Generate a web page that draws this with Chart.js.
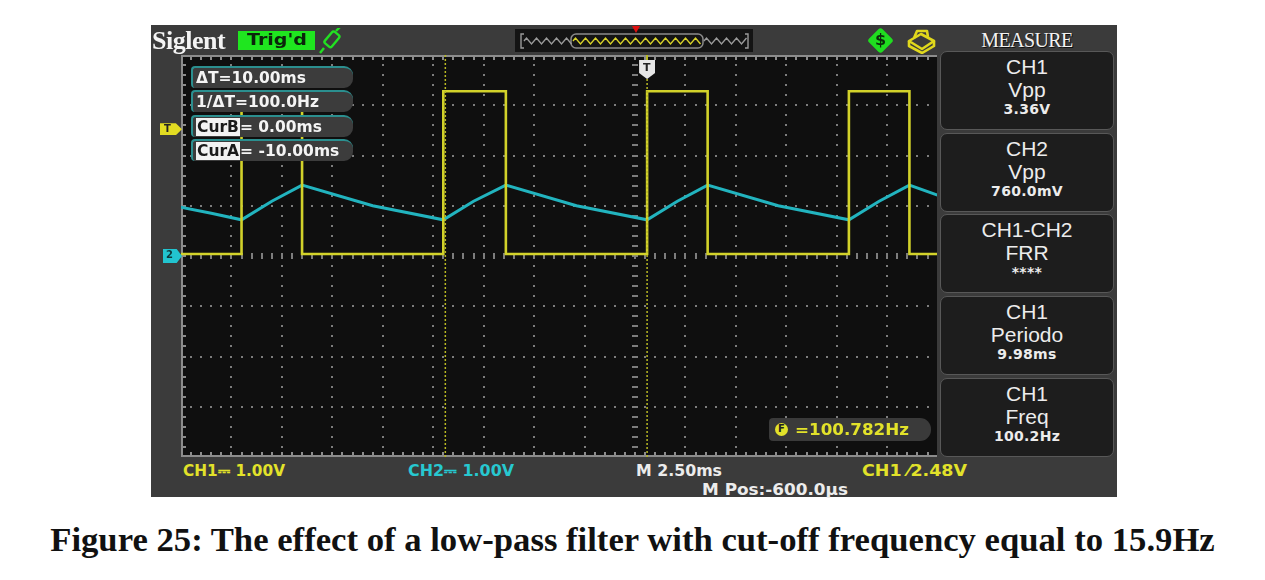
<!DOCTYPE html>
<html>
<head>
<meta charset="utf-8">
<title>Figure 25</title>
<script src="https://cdn.jsdelivr.net/npm/chart.js@4.4.1/dist/chart.umd.min.js"></script>
<style>
  body { margin: 0; width: 1265px; height: 580px; background: #fff; position: relative; overflow: hidden; }
  .abs { position: absolute; white-space: nowrap; }
  .ui { font-family: "DejaVu Sans", sans-serif; font-weight: bold; transform-origin: 0 50%; line-height: 1; }
  #frame { left: 151px; top: 25px; width: 966px; height: 472px; background: #3b3b3b; }
  #plotWrap { left: 181px; top: 55px; width: 908px; height: 402px; background: #0f0f0f; }
  #menu { left: 937px; top: 25px; width: 180px; height: 433px; background: #3b3b3b; }
  #menuHead { left: 938px; top: 27px; width: 178px; height: 24px; color: #f2f2f2; text-align: center;
    font: 20px "Liberation Serif", serif; letter-spacing: -0.6px; text-shadow: 1px 1px 0 #111; line-height: 26px; }
  .mbox { position: absolute; left: 940px; width: 172px; height: 77px; background: #1d1d1d;
    border: 1px solid #585858; border-radius: 7px; color: #ececec; }
  .mbox div { position: absolute; left: 0; width: 100%; text-align: center; line-height: 1; }
  .l1, .l2 { font: 21px "Liberation Sans", Arial, sans-serif; }
  .l3 { font: bold 14px "DejaVu Sans", sans-serif; letter-spacing: 0.3px; }
  .rd { position: absolute; left: 191px; width: 160px; height: 20px; background: #3c3c3c;
    border-top: 2px solid #2b8f8f; border-left: 2px solid #2b8f8f; border-radius: 4px 9px 9px 4px; }
  .rdt { color: #f4f4f4; font-size: 15.5px; top: 3px; left: 3px; }
  .hl { background: #f2f2f2; color: #1a1a1a; padding: 0 1px; }
  #caption { left: 0; top: 522px; width: 1265px; text-align: center; color: #111;
    font-family: "Liberation Serif", serif; font-weight: bold; font-size: 29px; line-height: 36px; }
</style>
</head>
<body>
<div class="abs" id="frame"></div>
<div class="abs" id="plotWrap"><canvas id="scopeChart" width="908" height="402"></canvas></div>

<!-- top bar -->
<div class="abs" style="left:152px;top:26px;color:#f4f4f4;font:bold 26px 'Liberation Serif',serif;letter-spacing:-0.5px;">Siglent</div>
<div class="abs" style="left:238px;top:31px;width:77px;height:19px;background:#1fe61f;"></div>
<div class="abs ui fit" data-w="60" style="left:247px;top:33px;font-size:15px;color:#0b250b;">Trig'd</div>
<svg class="abs" style="left:318px;top:28px" width="28" height="26" viewBox="0 0 28 26">
  <g fill="none" stroke="#22e022" stroke-width="2.4">
    <rect x="9" y="4" width="9" height="15" rx="2" transform="rotate(40 14 12)"/>
    <path d="M6 20 L2 25"/><path d="M18 3 L22 -1"/>
  </g>
</svg>
<div class="abs" style="left:515px;top:29px;width:238px;height:23px;background:#141414;"></div>
<svg class="abs" id="overview" style="left:515px;top:29px" width="238" height="23"></svg>
<div class="abs" style="left:632px;top:26px;width:0;height:0;border-left:4px solid transparent;border-right:4px solid transparent;border-top:7px solid #e01010;"></div>
<div class="abs" style="left:871px;top:31px;width:19px;height:19px;background:#20dd20;transform:rotate(45deg);border-radius:3px;"></div>
<div class="abs ui" style="left:875px;top:32px;font-size:16px;color:#0a2a0a;">$</div>
<svg class="abs" style="left:905px;top:28px" width="32" height="26" viewBox="0 0 32 26">
  <g fill="none" stroke="#e0d81c" stroke-width="2.6" stroke-linejoin="round">
    <path d="M4 13 L16 6 L29 13 L17 21 Z"/>
    <path d="M9 10 L12 3 L22 3 L23 9"/>
    <path d="M4 13 L4 18 L17 25 L29 18 L29 13"/>
  </g>
</svg>

<!-- measure menu -->
<div class="abs" id="menu"></div>
<div class="abs" id="menuHead">MEASURE</div>
<div id="menuBoxes"></div>

<!-- cursor readouts -->
<div id="readouts"></div>

<!-- bottom bar -->
<div class="abs ui fit" data-w="102" style="left:183px;top:463px;font-size:16px;color:#e2e22a;">CH1⎓ 1.00V</div>
<div class="abs ui fit" data-w="106" style="left:408px;top:463px;font-size:16px;color:#27c8d0;">CH2⎓ 1.00V</div>
<div class="abs ui fit" data-w="86" style="left:636px;top:463px;font-size:16px;color:#ececec;">M 2.50ms</div>
<div class="abs ui fit" data-w="146" style="left:702px;top:482px;font-size:16px;color:#ececec;">M Pos:-600.0µs</div>
<div class="abs ui fit" data-w="105" style="left:862px;top:463px;font-size:16px;color:#e2e22a;">CH1 ⁄2.48V</div>

<!-- frequency counter -->
<div class="abs" style="left:769px;top:418px;width:162px;height:23px;background:#3a3a3a;border-radius:4px 11px 11px 4px;"></div>
<div class="abs" style="left:775px;top:423px;width:13px;height:13px;border-radius:50%;background:#e2e22a;"></div>
<div class="abs ui" style="left:778px;top:424px;font-size:10px;color:#222;">F</div>
<div class="abs ui fit" data-w="114" style="left:795px;top:422px;font-size:16px;color:#e2e22a;">=100.782Hz</div>

<div class="abs" id="caption">Figure 25: The effect of a low-pass filter with cut-off frequency equal to 15.9Hz</div>

<script>
// scope settings
const TIME_PER_DIV = 2.5;     // ms
const H_POS = -0.6;           // ms, time at screen centre
const VOLT_PER_DIV = 1.0;
const CH1_GROUND = 0.04;      // div
const CH2_GROUND = 0.0;       // div
const TRIG_LEVEL = 2.48;      // V

// CH1: square wave, edges in ms
const ch1Rise = [-20.1, -10.1, 0.0, 10.0];
const ch1Fall = [-17.1, -7.0, 3.0, 13.0];
const ch1Low = 0.0;
const ch1High = 3.24;

// CH2: filtered output
const ch2Time = [-23.2, -21.6, -20.1, -18.6, -17.1, -13.6, -10.1, -8.6, -7.0, -3.5, 0.0, 1.5, 3.0, 6.5, 10.0, 11.5, 13.0, 14.6];
const ch2Volt = [0.98, 0.85, 0.72, 1.09, 1.41, 1.00, 0.72, 1.09, 1.41, 1.00, 0.72, 1.09, 1.41, 1.00, 0.72, 1.09, 1.41, 1.18];

// cursors (ms)
const cursorA = -10.0;
const cursorB = 0.0;

const readouts = ["ΔT=10.00ms", "1/ΔT=100.0Hz", "CurB= 0.00ms", "CurA= -10.00ms"];
const measureItems = [
  ["CH1", "Vpp", "3.36V"],
  ["CH2", "Vpp", "760.0mV"],
  ["CH1-CH2", "FRR", "****"],
  ["CH1", "Periodo", "9.98ms"],
  ["CH1", "Freq", "100.2Hz"]
];

const toDivX = t => (t - H_POS) / TIME_PER_DIV;
const toDivY = (v, g) => v / VOLT_PER_DIV + g;

// build CH1 path from the edges
const ch1Pts = [{ x: toDivX(-23.2), y: toDivY(ch1Low, CH1_GROUND) }];
ch1Rise.forEach((r, i) => {
  const f = ch1Fall[i];
  ch1Pts.push({ x: toDivX(r), y: toDivY(ch1Low, CH1_GROUND) });
  ch1Pts.push({ x: toDivX(r), y: toDivY(ch1High, CH1_GROUND) });
  ch1Pts.push({ x: toDivX(f), y: toDivY(ch1High, CH1_GROUND) });
  ch1Pts.push({ x: toDivX(f), y: toDivY(ch1Low, CH1_GROUND) });
});
ch1Pts.push({ x: toDivX(22), y: toDivY(ch1Low, CH1_GROUND) });

const ch2Pts = ch2Time.map((t, i) => ({ x: toDivX(t), y: toDivY(ch2Volt[i], CH2_GROUND) }));

const cursorLine = t => [{ x: toDivX(t), y: -4 }, { x: toDivX(t), y: 4 }];

// dotted oscilloscope graticule
const graticule = {
  id: "graticule",
  beforeDatasetsDraw(chart) {
    const { ctx, chartArea: a, scales: { x, y } } = chart;
    ctx.save();
    ctx.fillStyle = "#7d7d7d";
    for (let i = -8; i <= 8; i++) {
      const px = Math.round(x.getPixelForValue(i));
      for (let j = -20; j <= 20; j++) {
        const py = Math.round(y.getPixelForValue(j / 5));
        if (i === 0) ctx.fillRect(px - 3, py - 1, 6, 2);
        else ctx.fillRect(px - 1, py - 1, 2, 2);
      }
    }
    for (let j = -3; j <= 3; j++) {
      const py = Math.round(y.getPixelForValue(j));
      for (let i = -45; i <= 45; i++) {
        const px = Math.round(x.getPixelForValue(i / 5));
        if (j === 0) ctx.fillRect(px - 1, py - 3, 2, 6);
        else ctx.fillRect(px - 1, py - 1, 2, 2);
      }
    }
    // border with ruler ticks
    ctx.strokeStyle = "#8c8c8c";
    ctx.lineWidth = 2;
    ctx.strokeRect(a.left + 1, a.top + 1, a.width - 2, a.height - 2);
    ctx.fillStyle = "#8c8c8c";
    for (let i = -45; i <= 45; i++) {
      const px = Math.round(x.getPixelForValue(i / 5));
      ctx.fillRect(px - 1, a.top, 2, 5);
      ctx.fillRect(px - 1, a.bottom - 5, 2, 5);
    }
    for (let j = -20; j <= 20; j++) {
      const py = Math.round(y.getPixelForValue(j / 5));
      ctx.fillRect(a.left, py - 1, 5, 2);
    }
    ctx.restore();
  }
};

const chart = new Chart(document.getElementById("scopeChart").getContext("2d"), {
  type: "line",
  data: {
    datasets: [
      { label: "CurA", data: cursorLine(cursorA), borderColor: "#b9b922", borderWidth: 1.5, borderDash: [2, 2] },
      { label: "CurB", data: cursorLine(cursorB), borderColor: "#b9b922", borderWidth: 1.5, borderDash: [2, 2] },
      { label: "CH1", data: ch1Pts, borderColor: "#d2d22a", borderWidth: 2.6 },
      { label: "CH2", data: ch2Pts, borderColor: "#22b4bf", borderWidth: 3 }
    ]
  },
  options: {
    responsive: false,
    animation: false,
    devicePixelRatio: 1,
    layout: { padding: 0 },
    elements: { point: { radius: 0 }, line: { tension: 0 } },
    plugins: { legend: { display: false }, tooltip: { enabled: false } },
    scales: {
      x: { type: "linear", min: -9, max: 9, display: false },
      y: { type: "linear", min: -4, max: 4, display: false }
    }
  },
  plugins: [graticule]
});

// markers placed through the chart scales
const wrap = document.getElementById("plotWrap");
const ox = wrap.offsetLeft, oy = wrap.offsetTop;
const sx = chart.scales.x, sy = chart.scales.y;

function addDiv(css, text) {
  const d = document.createElement("div");
  d.className = "abs ui";
  d.style.cssText = css;
  if (text) d.textContent = text;
  document.body.appendChild(d);
  return d;
}
const trigX = ox + sx.getPixelForValue(toDivX(0));
addDiv(`left:${trigX - 1}px;top:${oy}px;width:2px;height:6px;background:#b9b922;`);
addDiv(`left:${trigX - 8}px;top:${oy + 5}px;width:16px;height:19px;background:#e6e6e6;
  clip-path:polygon(0 0,100% 0,100% 68%,50% 100%,0 68%);`);
addDiv(`left:${trigX - 4}px;top:${oy + 7}px;font-size:11px;color:#222;`, "T");

const trigY = oy + sy.getPixelForValue(toDivY(TRIG_LEVEL, CH1_GROUND));
addDiv(`left:160px;top:${trigY - 6}px;width:22px;height:12px;background:#e2dc22;
  clip-path:polygon(0 0,72% 0,100% 50%,72% 100%,0 100%);`);
addDiv(`left:164px;top:${trigY - 5}px;font-size:10px;color:#222;`, "T");

const g2Y = oy + sy.getPixelForValue(toDivY(0, CH2_GROUND));
addDiv(`left:163px;top:${g2Y - 7}px;width:19px;height:14px;background:#22c4cf;
  clip-path:polygon(0 0,72% 0,100% 50%,72% 100%,0 100%);`);
addDiv(`left:166px;top:${g2Y - 6}px;font-size:10px;color:#0d3a3d;`, "2");

// cursor readout boxes
const rdHost = document.getElementById("readouts");
readouts.forEach((txt, i) => {
  const box = document.createElement("div");
  box.className = "rd";
  box.style.top = (66 + i * 24.3) + "px";
  const t = document.createElement("div");
  t.className = "abs ui rdt";
  if (txt.startsWith("Cur")) {
    t.innerHTML = `<span class="hl">${txt.slice(0, 4)}</span>${txt.slice(4)}`;
  } else {
    t.textContent = txt;
  }
  box.appendChild(t);
  rdHost.appendChild(box);
});

// measure menu boxes
const mHost = document.getElementById("menuBoxes");
measureItems.forEach((m, i) => {
  const b = document.createElement("div");
  b.className = "mbox";
  b.style.top = (51 + i * 81.7) + "px";
  b.innerHTML = `<div class="l1" style="top:4px">${m[0]}</div>
    <div class="l2" style="top:27px">${m[1]}</div>
    <div class="l3" style="top:50px">${m[2]}</div>`;
  mHost.appendChild(b);
});

// overview strip
(function () {
  const svg = document.getElementById("overview");
  const ns = "http://www.w3.org/2000/svg";
  const wave = (x0, x1, color) => {
    let d = `M${x0} 12`;
    for (let x = x0; x < x1; x += 5) d += ` L${x + 2.5} ${((x - x0) / 5) % 2 ? 15 : 9}`;
    const p = document.createElementNS(ns, "path");
    p.setAttribute("d", d);
    p.setAttribute("fill", "none");
    p.setAttribute("stroke", color);
    p.setAttribute("stroke-width", "1.4");
    svg.appendChild(p);
  };
  const r = document.createElementNS(ns, "rect");
  Object.entries({ x: 56, y: 5, width: 132, height: 14, rx: 5, fill: "none", stroke: "#8a8a8a", "stroke-width": 1.5 })
    .forEach(([k, v]) => r.setAttribute(k, v));
  svg.appendChild(r);
  wave(9, 56, "#9a9a9a");
  wave(58, 186, "#d8d22a");
  wave(189, 231, "#9a9a9a");
  const br = document.createElementNS(ns, "path");
  br.setAttribute("d", "M9 5 L6 5 L6 19 L9 19 M230 5 L233 5 L233 19 L230 19");
  br.setAttribute("fill", "none");
  br.setAttribute("stroke", "#9a9a9a");
  br.setAttribute("stroke-width", "1.4");
  svg.appendChild(br);
})();

// squeeze the scope texts to their measured widths
document.querySelectorAll(".fit").forEach(el => {
  const w = el.getBoundingClientRect().width;
  el.style.transform = `scaleX(${el.dataset.w / w})`;
});
const cap = document.getElementById("caption");
const range = document.createRange();
range.selectNodeContents(cap);
const cw = range.getBoundingClientRect().width;
cap.style.fontSize = (29 * 1165 / cw) + "px";
</script>
</body>
</html>
